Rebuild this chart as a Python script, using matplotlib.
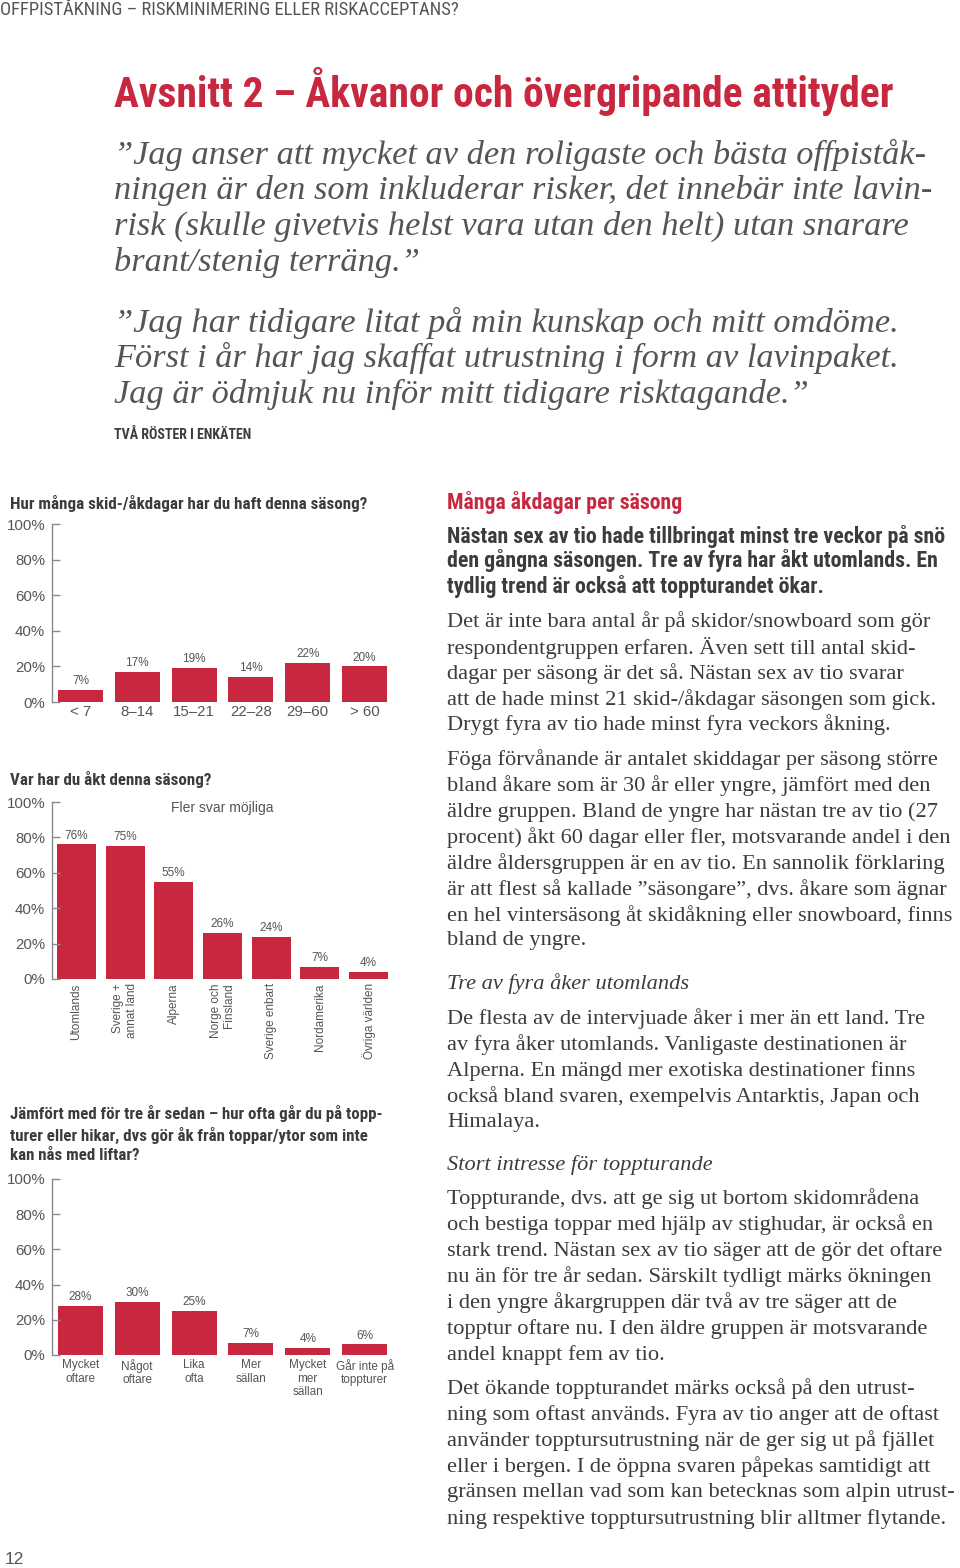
import matplotlib
matplotlib.use("Agg")
import matplotlib.pyplot as plt
from matplotlib import font_manager

# ---------------- data ----------------
days_cats = ['< 7', '8–14', '15–21', '22–28', '29–60', '> 60']
days_vals = [7, 17, 19, 14, 22, 20]

where_cats = ['Utomlands', 'Sverige +\nannat land', 'Alperna', 'Norge och\nFinsland',
              'Sverige enbart', 'Nordamerika', 'Övriga världen']
where_vals = [76, 75, 55, 26, 24, 7, 4]

tour_cats = ['Mycket\noftare', 'Något\noftare', 'Lika\nofta', 'Mer\nsällan',
             'Mycket\nmer\nsällan', 'Går inte på\ntoppturer']
tour_vals = [28, 30, 25, 7, 4, 6]

yticks = [0, 20, 40, 60, 80, 100]
ytick_labels = ['0%', '20%', '40%', '60%', '80%', '100%']

title_main = 'Avsnitt 2 – Åkvanor och övergripande attityder'
header = 'OFFPISTÅKNING – RISKMINIMERING ELLER RISKACCEPTANS?'
quote1 = ['”Jag anser att mycket av den roligaste och bästa offpiståk-',
          'ningen är den som inkluderar risker, det innebär inte lavin-',
          'risk (skulle givetvis helst vara utan den helt) utan snarare',
          'brant/stenig terräng.”']
quote2 = ['”Jag har tidigare litat på min kunskap och mitt omdöme.',
          'Först i år har jag skaffat utrustning i form av lavinpaket.',
          'Jag är ödmjuk nu inför mitt tidigare risktagande.”']
source = 'TVÅ RÖSTER I ENKÄTEN'

chart1_title = ['Hur många skid-/åkdagar har du haft denna säsong?']
chart2_title = ['Var har du åkt denna säsong?']
chart3_title = ['Jämfört med för tre år sedan – hur ofta går du på topp-',
                'turer eller hikar, dvs gör åk från toppar/ytor som inte',
                'kan nås med liftar?']
chart2_note = 'Fler svar möjliga'

side_head = 'Många åkdagar per säsong'
lead = ['Nästan sex av tio hade tillbringat minst tre veckor på snö',
        'den gångna säsongen. Tre av fyra har åkt utomlands. En',
        'tydlig trend är också att toppturandet ökar.']
body1 = ['Det är inte bara antal år på skidor/snowboard som gör',
         'respondentgruppen erfaren. Även sett till antal skid-',
         'dagar per säsong är det så. Nästan sex av tio svarar',
         'att de hade minst 21 skid-/åkdagar säsongen som gick.',
         'Drygt fyra av tio hade minst fyra veckors åkning.']
body2 = ['Föga förvånande är antalet skiddagar per säsong större',
         'bland åkare som är 30 år eller yngre, jämfört med den',
         'äldre gruppen. Bland de yngre har nästan tre av tio (27',
         'procent) åkt 60 dagar eller fler, motsvarande andel i den',
         'äldre åldersgruppen är en av tio. En sannolik förklaring',
         'är att flest så kallade ”säsongare”, dvs. åkare som ägnar',
         'en hel vintersäsong åt skidåkning eller snowboard, finns',
         'bland de yngre.']
sub1 = 'Tre av fyra åker utomlands'
body3 = ['De flesta av de intervjuade åker i mer än ett land. Tre',
         'av fyra åker utomlands. Vanligaste destinationen är',
         'Alperna. En mängd mer exotiska destinationer finns',
         'också bland svaren, exempelvis Antarktis, Japan och',
         'Himalaya.']
sub2 = 'Stort intresse för toppturande'
body4 = ['Toppturande, dvs. att ge sig ut bortom skidområdena',
         'och bestiga toppar med hjälp av stighudar, är också en',
         'stark trend. Nästan sex av tio säger att de gör det oftare',
         'nu än för tre år sedan. Särskilt tydligt märks ökningen',
         'i den yngre åkargruppen där två av tre säger att de',
         'topptur oftare nu. I den äldre gruppen är motsvarande',
         'andel knappt fem av tio.']
body5 = ['Det ökande toppturandet märks också på den utrust-',
         'ning som oftast används. Fyra av tio anger att de oftast',
         'använder topptursutrustning när de ger sig ut på fjället',
         'eller i bergen. I de öppna svaren påpekas samtidigt att',
         'gränsen mellan vad som kan betecknas som alpin utrust-',
         'ning respektive topptursutrustning blir alltmer flytande.']
page_no = '12'

# ---------------- styling ----------------
RED = '#C8283F'
TXT = '#3c3c3c'
GREY = '#555555'
W, H = 960, 1568


def pick_font(cands):
    for c in cands:
        try:
            font_manager.findfont(font_manager.FontProperties(family=c), fallback_to_default=False)
            return c
        except Exception:
            pass
    return 'DejaVu Sans'


COND = pick_font(['Liberation Sans Narrow', 'Roboto Condensed', 'Roboto', 'Liberation Sans'])
SANS = pick_font(['Liberation Sans', 'Roboto'])
SERIF = pick_font(['Liberation Serif', 'DejaVu Serif'])

plt.rcParams['font.family'] = [SANS, 'DejaVu Sans']

fig = plt.figure(figsize=(W / 100, H / 100), dpi=100)
fig.patch.set_facecolor('white')
renderer = fig.canvas.get_renderer()


def fx(x):
    return x / W


def fy(y):
    return 1 - y / H


def block(lines, x, ys, ref_idx, target_w, **kw):
    ts = [fig.text(fx(x), fy(y), s, ha='left', va='center', **kw) for s, y in zip(lines, ys)]
    size = kw.get('fontsize', 12)
    bb = ts[ref_idx].get_window_extent(renderer)
    new = size * target_w / bb.width
    for t in ts:
        t.set_fontsize(new)
    return ts


# header / title / quotes
block([header], 0, [10], 0, 461, fontsize=10, family=COND, color=GREY)
block([title_main], 114, [92], 0, 779, fontsize=30, family=COND, weight='bold', color=RED)
block(quote1 + quote2, 114, [155, 190, 226, 262, 323, 358, 394], 1, 816,
      fontsize=22, family=SERIF, style='italic', color=GREY)
block([source], 114, [435], 0, 139, fontsize=9, family=COND, weight='bold', color=TXT)

# chart titles
block(chart1_title, 10, [503], 0, 355, fontsize=11, family=COND, weight='bold', color=TXT)
block(chart2_title, 10, [780], 0, 200, fontsize=11, family=COND, weight='bold', color=TXT)
block(chart3_title, 10, [1114, 1135, 1155], 0, 368, fontsize=11, family=COND, weight='bold', color=TXT)

# right column
block([side_head], 447, [502], 0, 236, fontsize=14, family=COND, weight='bold', color=RED)
block(lead, 447, [536, 561, 587], 0, 498, fontsize=13, family=COND, weight='bold', color=TXT)
bodies = [(body1, [622, 648, 674, 700, 725]),
          (body2, [760, 786, 812, 838, 864, 890, 916, 941]),
          (body3, [1019, 1045, 1071, 1097, 1122]),
          (body4, [1199, 1225, 1251, 1277, 1303, 1329, 1355]),
          (body5, [1389, 1415, 1441, 1467, 1493, 1519])]
body_texts = []
for lines, ys in bodies:
    for s, y in zip(lines, ys):
        body_texts.append(fig.text(fx(447), fy(y), s, ha='left', va='center', fontsize=14,
                                   family=SERIF, color=TXT))
for s, y in [(sub1, 984), (sub2, 1165)]:
    body_texts.append(fig.text(fx(447), fy(y), s, ha='left', va='center', fontsize=14,
                               family=SERIF, style='italic', color=TXT))
w0 = body_texts[0].get_window_extent(renderer).width
wmax = max(t.get_window_extent(renderer).width for t in body_texts)
bsize = min(14 * 495 / w0, 14 * 510 / wmax)
for t in body_texts:
    t.set_fontsize(bsize)

fig.text(fx(5), fy(1560), page_no, ha='left', va='center', fontsize=12.5, family=SANS, color=GREY)


# ---------------- charts ----------------
def make_axes(left, right, top, bottom):
    return fig.add_axes([fx(left), fy(bottom), (right - left) / W, (bottom - top) / H])


def style_axes(ax, n):
    ax.set_xlim(-0.5, n - 0.5)
    ax.set_ylim(0, 100)
    for s in ['top', 'right', 'bottom']:
        ax.spines[s].set_visible(False)
    ax.spines['left'].set_color('#8a8a8a')
    ax.spines['left'].set_linewidth(1)
    ax.set_yticks(yticks)
    ax.set_yticklabels(ytick_labels)
    ax.tick_params(axis='y', direction='in', length=6, width=1, color='#8a8a8a',
                   labelsize=10.8, labelcolor=GREY, pad=5)
    ax.tick_params(axis='x', length=0, labelcolor=GREY)
    ax.set_facecolor('none')


# chart 1
ax1 = make_axes(52, 393, 524, 702)
b1 = ax1.bar(range(len(days_vals)), days_vals, width=0.79, color=RED)
style_axes(ax1, len(days_vals))
ax1.set_xticks(range(len(days_cats)))
ax1.set_xticklabels(days_cats, fontsize=10.8)
ax1.tick_params(axis='x', pad=2)
ax1.bar_label(b1, labels=[f'{v}%' for v in days_vals], padding=2, fontsize=8.5, color=GREY)

# chart 2
ax2 = make_axes(52, 393, 802, 979)
b2 = ax2.bar(range(len(where_vals)), where_vals, width=0.8, color=RED)
style_axes(ax2, len(where_vals))
ax2.set_xticks(range(len(where_cats)))
ax2.set_xticklabels(where_cats, fontsize=8.5, rotation=90, ha='center', va='top',
                    multialignment='right')
ax2.tick_params(axis='x', pad=3)
ax2.bar_label(b2, labels=[f'{v}%' for v in where_vals], padding=2, fontsize=8.5, color=GREY)
ax2.text(3.0, 96.5, chart2_note, ha='center', va='center', fontsize=10, color=GREY)

# chart 3
ax3 = make_axes(52, 393, 1179, 1355)
b3 = ax3.bar(range(len(tour_vals)), tour_vals, width=0.79, color=RED)
style_axes(ax3, len(tour_vals))
ax3.set_xticks(range(len(tour_cats)))
ax3.set_xticklabels(tour_cats, fontsize=8.5, linespacing=1.15)
ax3.tick_params(axis='x', pad=3)
ax3.bar_label(b3, labels=[f'{v}%' for v in tour_vals], padding=2, fontsize=8.5, color=GREY)

fig.savefig('out.png', dpi=100, facecolor='white')
